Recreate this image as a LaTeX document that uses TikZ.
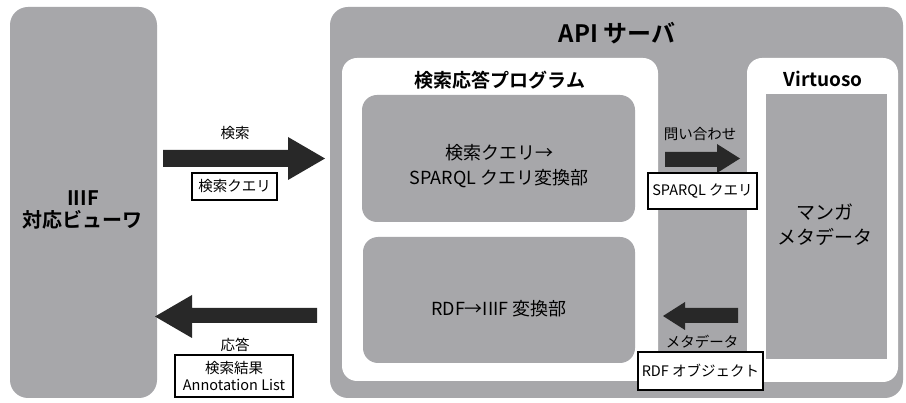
\documentclass[tikz,border=0pt]{standalone}
\usepackage{fontspec}
\setmainfont{Noto Sans CJK JP}
\newfontfamily\jpb{Noto Sans CJK JP Bold}
\definecolor{boxgray}{RGB}{167,167,170}
\definecolor{arrowblack}{RGB}{40,40,40}
\begin{document}
\begin{tikzpicture}[x=1pt,y=-1pt,
  graybox/.style={fill=boxgray,draw=none,rounded corners=18pt},
  whitebox/.style={fill=white,draw=none,rounded corners=15pt},
  subbox/.style={fill=boxgray,draw=none,rounded corners=15pt},
  labelbox/.style={fill=white,draw=black,line width=1.1pt,inner sep=0pt},
  blockarrow/.style={fill=arrowblack,draw=none},
  lbl/.style={font=\fontsize{14.5}{17}\selectfont},
  txt/.style={inner sep=0pt,align=center,text=black}]
\useasboundingbox (0,0) rectangle (906,403);
\fill[white] (0,0) rectangle (906,403);
% left viewer box
\fill[graybox] (10,7) rectangle (157,398);
\node[txt,font=\jpb\fontsize{20}{22}\selectfont] (viewer) at (83,210) {IIIF\\対応ビューワ};
% API server
\fill[graybox] (330,7) rectangle (903,398);
\node[txt,font=\jpb\fontsize{24}{28}\selectfont] (api) at (617,33) {API サーバ};
% search program
\fill[whitebox] (342,58) rectangle (658,381);
\node[txt,font=\jpb\fontsize{19}{23}\selectfont] (prog) at (500,80) {検索応答プログラム};
\fill[subbox] (362,95) rectangle (635,222);
\node[txt,font=\fontsize{18}{25}\selectfont] (conv1) at (499,166) {検索クエリ→\\SPARQL クエリ変換部};
\fill[subbox] (363,237) rectangle (635,363);
\node[txt,font=\fontsize{18}{22}\selectfont] (conv2) at (499,309) {RDF→IIIF 変換部};
% Virtuoso
\fill[whitebox] (747,58) rectangle (898,382);
\node[txt,font=\jpb\fontsize{19}{23}\selectfont] (virt) at (823,79) {Virtuoso};
\fill[boxgray] (766,94) rectangle (887,359);
\node[txt,font=\fontsize{19}{25}\selectfont] (manga) at (825,225) {マンガ\\メタデータ};
% big right arrow
\fill[blockarrow] (163,150) -- (288,150) -- (288,137) -- (325,158.5) -- (288,180) -- (288,167) -- (163,167) -- cycle;
\node[txt,lbl] (l1) at (235,133) {検索};
\node[labelbox,lbl,minimum width=85pt,minimum height=27pt] (b1) at (234.5,186.5) {検索クエリ};
% big left arrow
\fill[blockarrow] (317,308) -- (192,308) -- (192,295) -- (155,316.5) -- (192,338) -- (192,323) -- (317,323) -- cycle;
\node[txt,lbl] (l2) at (235,345) {応答};
\node[labelbox,lbl,minimum width=118pt,minimum height=42pt,align=center] (b2) at (234,376) {検索結果\\Annotation List};
% small right arrow
\fill[blockarrow] (665,152) -- (717,152) -- (717,144) -- (740,158.5) -- (717,173) -- (717,167) -- (665,167) -- cycle;
\node[txt,lbl] (l3) at (700,134) {問い合わせ};
\node[labelbox,lbl,minimum width=109pt,minimum height=36pt] (b3) at (702.5,191) {SPARQL クエリ};
% small left arrow
\fill[blockarrow] (738,308) -- (685,308) -- (685,302) -- (663,316) -- (685,330) -- (685,323) -- (738,323) -- cycle;
\node[txt,lbl] (l4) at (702,342) {メタデータ};
\node[labelbox,lbl,minimum width=125pt,minimum height=38pt] (b4) at (700.5,371) {RDF オブジェクト};
\end{tikzpicture}
\end{document}
